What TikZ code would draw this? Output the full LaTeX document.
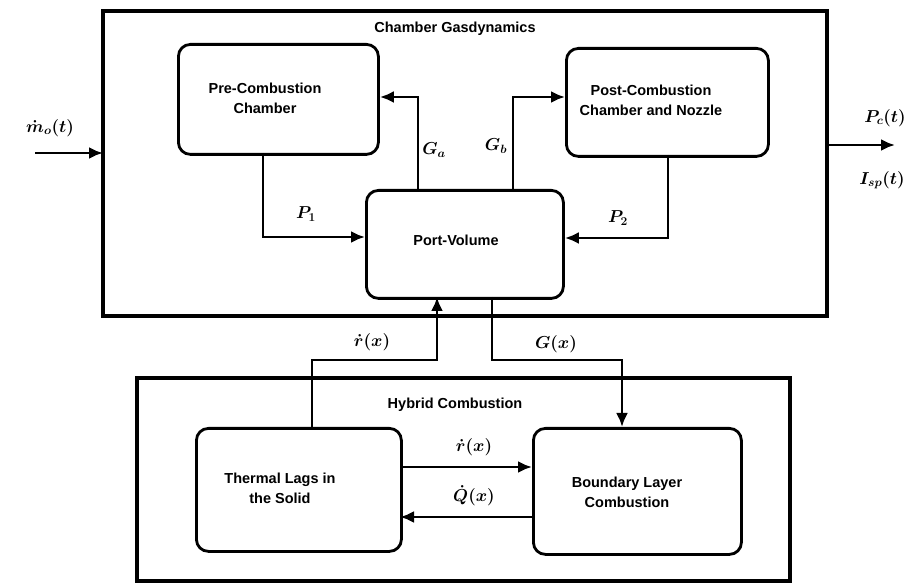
\documentclass[tikz,border=0pt]{standalone}
\usepackage{fontspec}
\setmainfont{Liberation Serif}
\setsansfont{Liberation Sans}
\usetikzlibrary{arrows.meta}
\begin{document}
\begin{tikzpicture}[x=1pt,y=-1pt,
  frame/.style={line width=3.4pt},
  blk/.style={draw,line width=2.8pt,rounded corners=12pt},
  btxt/.style={align=center,font=\sffamily\bfseries\fontsize{14.5}{20}\selectfont},
  conn/.style={line width=2.8pt,-{Latex[length=14pt,width=12pt]}},
  lab/.style={font=\boldmath\fontsize{18}{20}\selectfont},
  ttl/.style={font=\sffamily\bfseries\fontsize{14.5}{17}\selectfont}]
\useasboundingbox (0,0) rectangle (922,585);
% outer frames
\draw[frame] (103,11) rectangle (827,316);
\draw[frame] (137,378) rectangle (790,581);
\node[ttl] (t1) at (455,29) {Chamber Gasdynamics};
\node[ttl] (t2) at (455,405) {Hybrid Combustion};
% blocks
\node[blk,minimum width=200pt,minimum height=110pt,anchor=north west] (pre) at (177,43) {};
\node[btxt] (pret) at (265,98) {Pre-Combustion\\Chamber};
\node[blk,minimum width=202pt,minimum height=108pt,anchor=north west] (post) at (565,47) {};
\node[btxt] (postt) at (651,100) {Post-Combustion\\Chamber and Nozzle};
\node[blk,minimum width=197pt,minimum height=108pt,anchor=north west] (pv) at (365,189) {};
\node[btxt] (pvt) at (456,240) {Port-Volume};
\node[blk,minimum width=205pt,minimum height=123pt,anchor=north west] (th) at (195,427) {};
\node[btxt] (tht) at (280,488) {Thermal Lags in\\the Solid};
\node[blk,minimum width=208pt,minimum height=126pt,anchor=north west] (bl) at (532,427) {};
\node[btxt] (blt) at (627,492) {Boundary Layer\\Combustion};
% coordinates for free ends
\coordinate (in) at (35,153);
\coordinate (out) at (895,145);
% in / out
\draw[conn] (in) -- (103,153);
\draw[conn] (827,145) -- (out);
\node[lab] (lm) at (50,128) {$\dot m_o(t)$};
\node[lab] (lp) at (885,118) {$P_c(t)$};
\node[lab] (li) at (882,180) {$I_{sp}(t)$};
% inner chamber connectors
\draw[conn] (263,153) |- (pv.west |- 0,237);
\draw[conn] (418,189) |- (pre.east |- 0,97);
\draw[conn] (513,189) |- (post.west |- 0,97);
\draw[conn] (668,155) |- (pv.east |- 0,238);
\node[lab] (lp1) at (306,214) {$P_1$};
\node[lab] (lp2) at (618,218) {$P_2$};
\node[lab] (lga) at (434,150) {$G_a$};
\node[lab] (lgb) at (496,146) {$G_b$};
% between frames
\draw[conn] (312,427) -- (312,360) -- (437,360) -- (437,297);
\draw[conn] (492,297) -- (492,360) -- (622,360) -- (622,427);
\node[lab] (lr) at (372,342) {$\dot r(x)$};
\node[lab] (lg) at (556,344) {$G(x)$};
% hybrid connectors
\draw[conn] (400,467) -- (532,467);
\draw[conn] (532,517) -- (400,517);
\node[lab] (lr2) at (474,447) {$\dot r(x)$};
\node[lab] (lq) at (474,496) {$\dot Q(x)$};
\end{tikzpicture}
\end{document}
